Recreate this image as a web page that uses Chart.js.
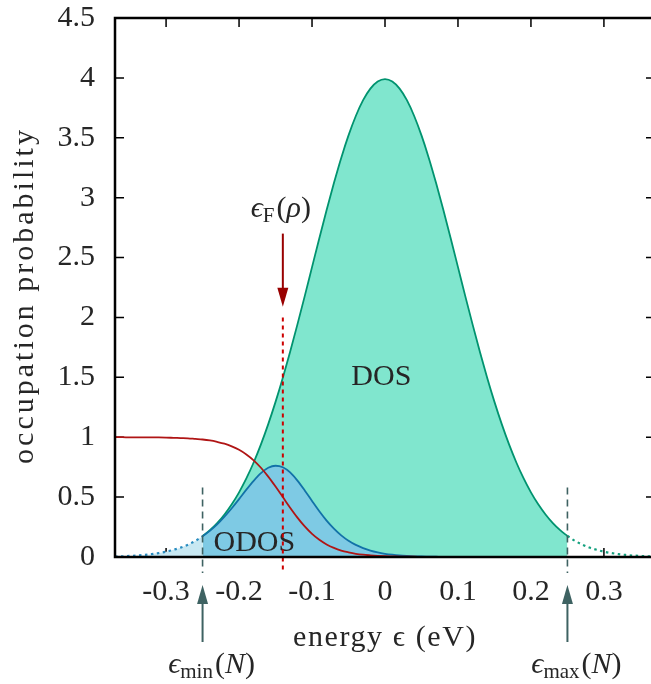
<!DOCTYPE html>
<html>
<head>
<meta charset="utf-8">
<script src="https://cdn.jsdelivr.net/npm/chart.js@4.4.0/dist/chart.umd.min.js"></script>
<style>
    html, body { margin: 0; padding: 0; background: #fff; overflow: hidden; }
    #contenitore { width: 660px; height: 684px; }
</style>
</head>
<body>
<div id="contenitore"><canvas id="grafico" width="660" height="684"></canvas></div>
<script>
var energia = [-0.37, -0.36, -0.35, -0.34, -0.33, -0.32, -0.31, -0.30, -0.29, -0.28,
    -0.27, -0.26, -0.25, -0.24, -0.23, -0.22, -0.21, -0.20, -0.19, -0.18,
    -0.17, -0.16, -0.15, -0.14, -0.13, -0.12, -0.11, -0.10, -0.09, -0.08,
    -0.07, -0.06, -0.05, -0.04, -0.03, -0.02, -0.01, 0.00, 0.01, 0.02,
    0.03, 0.04, 0.05, 0.06, 0.07, 0.08, 0.09, 0.10, 0.11, 0.12,
    0.13, 0.14, 0.15, 0.16, 0.17, 0.18, 0.19, 0.20, 0.21, 0.22,
    0.23, 0.24, 0.25, 0.26, 0.27, 0.28, 0.29, 0.30, 0.31, 0.32,
    0.33, 0.34, 0.35, 0.36, 0.37];

// DOS (curva verde)
var dos = [0.004, 0.006, 0.009, 0.012, 0.017, 0.024, 0.033, 0.044, 0.060, 0.079,
    0.104, 0.136, 0.175, 0.224, 0.283, 0.355, 0.440, 0.540, 0.656, 0.789,
    0.940, 1.109, 1.295, 1.497, 1.714, 1.942, 2.178, 2.420, 2.661, 2.897,
    3.122, 3.332, 3.520, 3.682, 3.814, 3.910, 3.969, 3.989, 3.969, 3.910,
    3.814, 3.682, 3.520, 3.332, 3.122, 2.897, 2.661, 2.420, 2.178, 1.942,
    1.714, 1.497, 1.295, 1.109, 0.940, 0.789, 0.656, 0.540, 0.440, 0.355,
    0.283, 0.224, 0.175, 0.136, 0.104, 0.079, 0.060, 0.044, 0.033, 0.024,
    0.017, 0.012, 0.009, 0.006, 0.004];

// ODOS (curva blu)
var odos = [0.004, 0.006, 0.009, 0.012, 0.017, 0.024, 0.033, 0.044, 0.060, 0.078,
    0.103, 0.134, 0.172, 0.218, 0.272, 0.336, 0.407, 0.483, 0.562, 0.636,
    0.700, 0.745, 0.762, 0.749, 0.706, 0.638, 0.556, 0.468, 0.382, 0.304,
    0.237, 0.181, 0.136, 0.101, 0.074, 0.053, 0.038, 0.027, 0.019, 0.013,
    0.009, 0.006, 0.004, 0.003, 0.002, 0.001, 0.001, 0, 0, 0,
    0, 0, 0, 0, 0, 0, 0, 0, 0, 0,
    0, 0, 0, 0, 0, 0, 0, 0, 0, 0,
    0, 0, 0, 0, 0];

// probabilita' di occupazione (curva rossa)
var fermi = [1.000, 1.000, 0.999, 0.999, 0.999, 0.998, 0.998, 0.997, 0.995, 0.993,
    0.991, 0.986, 0.981, 0.973, 0.961, 0.946, 0.924, 0.895, 0.856, 0.807,
    0.745, 0.671, 0.588, 0.500, 0.412, 0.329, 0.255, 0.193, 0.144, 0.105,
    0.076, 0.054, 0.039, 0.027, 0.019, 0.014, 0.010, 0.007, 0.005, 0.003,
    0.002, 0.002, 0.001, 0.001, 0.001, 0, 0, 0, 0, 0,
    0, 0, 0, 0, 0, 0, 0, 0, 0, 0,
    0, 0, 0, 0, 0, 0, 0, 0, 0, 0,
    0, 0, 0, 0, 0];

var tickX = [-0.3, -0.2, -0.1, 0, 0.1, 0.2, 0.3];
var etichetteX = ['-0.3', '-0.2', '-0.1', '0', '0.1', '0.2', '0.3'];
var tickY = [0, 0.5, 1, 1.5, 2, 2.5, 3, 3.5, 4, 4.5];
var etichetteY = ['0', '0.5', '1', '1.5', '2', '2.5', '3', '3.5', '4', '4.5'];

var eFermi = -0.14;   // livello di Fermi
var eMin = -0.25;     // finestra in energia
var eMax = 0.25;

var FONT = '"Liberation Serif", "DejaVu Serif", serif';
var NERO = '#262626';
var ARDESIA = '#3e6262';

// prende i punti di una curva dentro [da, a]
function tratto(valori, da, a) {
    var punti = [];
    for (var i = 0; i < energia.length; i++) {
        if (energia[i] >= da - 1e-9 && energia[i] <= a + 1e-9) {
            punti.push({ x: energia[i], y: valori[i] });
        }
    }
    return punti;
}

// scrive epsilon con pedice e argomento, centrato in cx
function scriviEps(ctx, cx, y, pedice, argomento) {
    var pezzi = [
        { t: '\u03F5', f: 'italic 30px ' + FONT, dy: 0 },
        { t: pedice, f: '21px ' + FONT, dy: 5 },
        { t: '(', f: '30px ' + FONT, dy: 0 },
        { t: argomento, f: 'italic 30px ' + FONT, dy: 0 },
        { t: ')', f: '30px ' + FONT, dy: 0 }
    ];
    var totale = 0;
    for (var i = 0; i < pezzi.length; i++) {
        ctx.font = pezzi[i].f;
        pezzi[i].w = ctx.measureText(pezzi[i].t).width + (i === 1 ? 2 : 0);
        totale += pezzi[i].w;
    }
    var x = cx - totale / 2;
    ctx.textAlign = 'left';
    ctx.textBaseline = 'alphabetic';
    ctx.fillStyle = NERO;
    for (var j = 0; j < pezzi.length; j++) {
        ctx.font = pezzi[j].f;
        ctx.fillText(pezzi[j].t, x, y + pezzi[j].dy);
        x += pezzi[j].w;
    }
}

function freccia(ctx, x, yCoda, yPunta, colore) {
    var verso = yPunta > yCoda ? 1 : -1;
    ctx.strokeStyle = colore;
    ctx.fillStyle = colore;
    ctx.lineWidth = 2;
    ctx.setLineDash([]);
    ctx.beginPath();
    ctx.moveTo(x, yCoda);
    ctx.lineTo(x, yPunta - verso * 14);
    ctx.stroke();
    ctx.beginPath();
    ctx.moveTo(x, yPunta);
    ctx.lineTo(x - 5.5, yPunta - verso * 19);
    ctx.lineTo(x + 5.5, yPunta - verso * 19);
    ctx.closePath();
    ctx.fill();
}

var decorazioni = {
    id: 'decorazioni',
    beforeDraw: function (chart) {     // tacche verso l'interno, sotto le aree colorate
        var ctx = chart.ctx, a = chart.chartArea;
        var sx = chart.scales.x, sy = chart.scales.y;
        ctx.save();
        ctx.strokeStyle = '#000';
        ctx.lineWidth = 1.5;
        ctx.beginPath();
        sx.ticks.forEach(function (t) {
            var px = sx.getPixelForValue(t.value);
            ctx.moveTo(px, a.bottom); ctx.lineTo(px, a.bottom - 9);
            ctx.moveTo(px, a.top); ctx.lineTo(px, a.top + 9);
        });
        sy.ticks.forEach(function (t) {
            var py = sy.getPixelForValue(t.value);
            ctx.moveTo(a.left, py); ctx.lineTo(a.left + 9, py);
            ctx.moveTo(a.right, py); ctx.lineTo(a.right - 9, py);
        });
        ctx.stroke();

        // titoli degli assi
        ctx.fillStyle = NERO;
        ctx.font = '30px ' + FONT;
        ctx.textAlign = 'center';
        ctx.textBaseline = 'middle';
        ctx.letterSpacing = '1.6px';
        ctx.fillText('energy \u03F5 (eV)', (a.left + a.right) / 2, a.bottom + 81);
        ctx.translate(25, (a.top + a.bottom) / 2 + 8);
        ctx.rotate(-Math.PI / 2);
        ctx.letterSpacing = '3px';
        ctx.fillText('occupation probability', 0, 0);
        ctx.restore();
    },
    afterDatasetsDraw: function (chart) {
        var ctx = chart.ctx, a = chart.chartArea;
        var sx = chart.scales.x, sy = chart.scales.y;
        ctx.save();

        // scritte DOS e ODOS
        ctx.fillStyle = NERO;
        ctx.font = '30px ' + FONT;
        ctx.textAlign = 'center';
        ctx.textBaseline = 'alphabetic';
        ctx.fillText('DOS', sx.getPixelForValue(-0.005), sy.getPixelForValue(1.44));
        ctx.fillText('ODOS', sx.getPixelForValue(-0.179), sy.getPixelForValue(0.05));

        // livello di Fermi
        var xF = sx.getPixelForValue(eFermi);
        ctx.strokeStyle = '#cc0000';
        ctx.lineWidth = 2;
        ctx.setLineDash([4, 4]);
        ctx.beginPath();
        ctx.moveTo(xF, sy.getPixelForValue(2.0));
        ctx.lineTo(xF, a.bottom + 15);
        ctx.stroke();
        freccia(ctx, xF, sy.getPixelForValue(2.70), sy.getPixelForValue(2.09), '#990000');
        scriviEps(ctx, xF - 2, sy.getPixelForValue(2.84), 'F', '\u03C1');

        // finestra eMin / eMax
        [eMin, eMax].forEach(function (e, k) {
            var px = sx.getPixelForValue(e);
            ctx.strokeStyle = ARDESIA;
            ctx.lineWidth = 1.6;
            ctx.setLineDash([7, 5]);
            ctx.beginPath();
            ctx.moveTo(px, sy.getPixelForValue(0.58));
            ctx.lineTo(px, a.bottom + 16);
            ctx.stroke();
            freccia(ctx, px, a.bottom + 85, a.bottom + 28, ARDESIA);
            scriviEps(ctx, px + 9, a.bottom + 116, k === 0 ? 'min' : 'max', 'N');
        });

        // bordo
        ctx.setLineDash([]);
        ctx.strokeStyle = '#000';
        ctx.lineWidth = 2.5;
        ctx.strokeRect(a.left, a.top, a.right - a.left, a.bottom - a.top);
        ctx.restore();
    }
};

var carattere = { family: FONT, size: 30 };

var grafico = new Chart(document.getElementById('grafico'), {
    type: 'line',
    data: {
        datasets: [
            {   // probabilita' di occupazione
                data: tratto(fermi, -1, 1),
                borderColor: '#b01515', borderWidth: 1.8, fill: false, order: 0
            },
            {   // ODOS dentro la finestra
                data: tratto(odos, eMin, 1),
                borderColor: '#1272a8', borderWidth: 1.8,
                fill: 'origin', backgroundColor: '#7ecae4', order: 1
            },
            {   // ODOS fuori finestra
                data: tratto(odos, -1, eMin),
                borderColor: '#2a8cc0', borderWidth: 2.2, borderDash: [2.5, 3.5],
                fill: 'origin', backgroundColor: '#c8e8f2', order: 2
            },
            {   // DOS dentro la finestra
                data: tratto(dos, eMin, eMax),
                borderColor: '#00936f', borderWidth: 1.8,
                fill: 'origin', backgroundColor: '#80e6ce', order: 3
            },
            {   // DOS fuori finestra
                data: tratto(dos, eMax, 1),
                borderColor: '#13a07e', borderWidth: 2.2, borderDash: [2.5, 3.5],
                fill: false, order: 4
            }
        ]
    },
    options: {
        responsive: false,
        animation: false,
        devicePixelRatio: 1,
        layout: { padding: { top: 0, right: 5, left: 0, bottom: 0 } },
        elements: {
            point: { radius: 0 },
            line: { cubicInterpolationMode: 'monotone' }
        },
        plugins: {
            legend: { display: false },
            tooltip: { enabled: false },
            filler: { drawTime: 'beforeDatasetsDraw' }
        },
        scales: {
            x: {
                type: 'linear', min: -0.37, max: 0.37,
                afterBuildTicks: function (s) { s.ticks = tickX.map(function (v) { return { value: v }; }); },
                afterFit: function (s) { s.height = 127; },
                grid: { display: false, drawTicks: false },
                border: { display: false },
                ticks: {
                    autoSkip: false, maxRotation: 0, padding: 17, color: NERO, font: carattere,
                    callback: function (v, i) { return etichetteX[i]; }
                }
            },
            y: {
                type: 'linear', min: 0, max: 4.5,
                afterBuildTicks: function (s) { s.ticks = tickY.map(function (v) { return { value: v }; }); },
                afterFit: function (s) { s.width = 115; s.paddingTop = 18; s.paddingBottom = 0; },
                grid: { display: false, drawTicks: false },
                border: { display: false },
                ticks: {
                    autoSkip: false, padding: 20, color: NERO, font: carattere,
                    callback: function (v, i) { return etichetteY[i]; }
                }
            }
        }
    },
    plugins: [decorazioni]
});
</script>
</body>
</html>
